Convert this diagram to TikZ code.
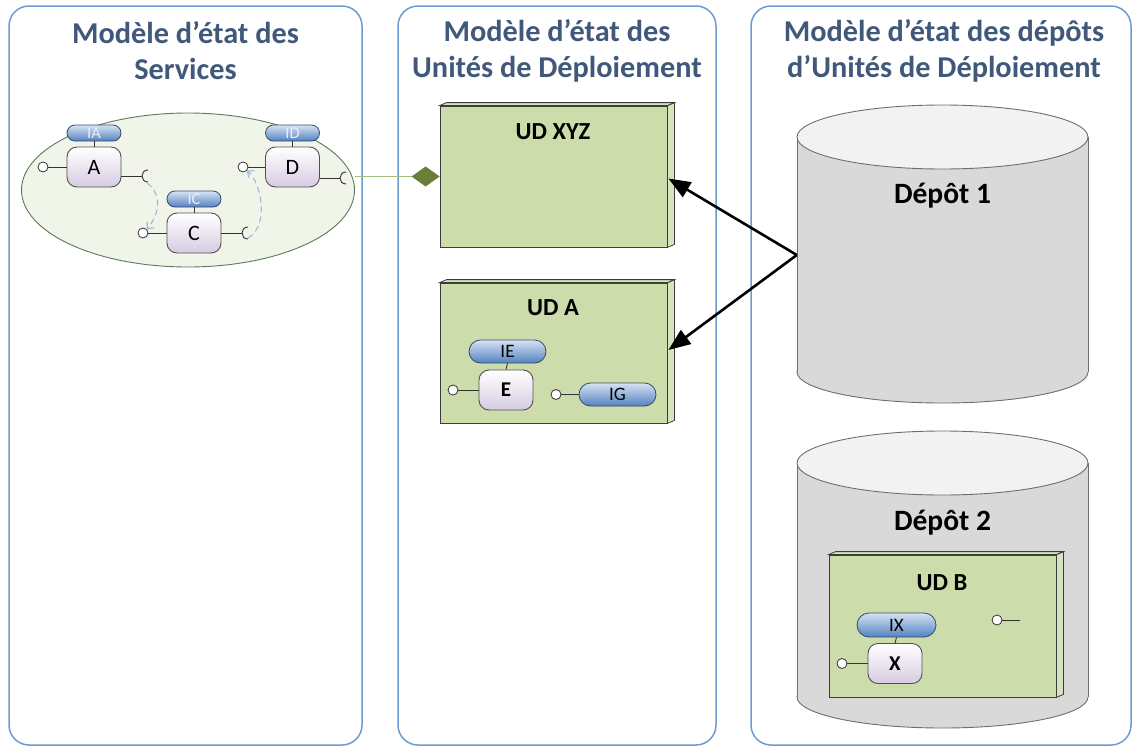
\documentclass[tikz,border=0pt]{standalone}
\usepackage{fontspec}
\setmainfont{Carlito}
\usetikzlibrary{arrows.meta,shapes.geometric,calc}
\definecolor{panelc}{RGB}{108,155,210}
\definecolor{titlec}{RGB}{64,88,122}
\definecolor{ellfill}{RGB}{240,244,233}
\definecolor{ellstroke}{RGB}{88,124,88}
\definecolor{udfill}{RGB}{204,220,170}
\definecolor{udside}{RGB}{214,228,188}
\definecolor{udstroke}{RGB}{60,60,60}
\definecolor{cylbody}{RGB}{217,217,217}
\definecolor{cyltop}{RGB}{242,242,242}
\definecolor{cylstroke}{RGB}{110,110,110}
\definecolor{pilltop}{RGB}{214,227,243}
\definecolor{pillbot}{RGB}{84,130,192}
\definecolor{pillstroke}{RGB}{50,75,110}
\definecolor{complav}{RGB}{214,204,226}
\definecolor{compstroke}{RGB}{80,80,80}
\definecolor{depc}{RGB}{157,184,220}
\definecolor{diamc}{RGB}{106,126,58}
\definecolor{linkc}{RGB}{163,190,133}
\definecolor{lightlbl}{RGB}{232,238,246}
\begin{document}
\begin{tikzpicture}[x=1pt,y=-1pt,
  panel/.style={draw=panelc,line width=1.5pt,rounded corners=20pt,inner sep=0pt},
  title/.style={align=center,text=titlec,font=\fontsize{30.3}{36}\selectfont\bfseries},
  svcell/.style={ellipse,draw=ellstroke,fill=ellfill,line width=0.9pt,minimum width=333pt,minimum height=154pt,inner sep=0pt},
  udbox/.style={draw=udstroke,fill=udfill,line width=0.8pt,minimum width=227pt,inner sep=0pt},
  udface/.style={draw=udstroke,fill=udside,line width=0.8pt},
  udtitle/.style={font=\fontsize{24.5}{28}\selectfont\bfseries},
  cyl/.style={draw=cylstroke,line width=0.9pt},
  deplbl/.style={font=\fontsize{29.5}{34}\selectfont\bfseries},
  comp/.style={draw=compstroke,line width=0.9pt,rounded corners=10pt,top color=white,bottom color=complav,minimum width=54pt,minimum height=40pt,inner sep=0pt,font=\fontsize{22}{24}\selectfont},
  compb/.style={comp,font=\fontsize{21}{23}\selectfont\bfseries},
  pill/.style={draw=pillstroke,line width=0.8pt,rounded corners=8pt,top color=pilltop,bottom color=pillbot,minimum width=54pt,minimum height=16pt,inner sep=0pt,text=lightlbl,font=\fontsize{16.5}{17}\selectfont},
  bigpill/.style={pill,rounded corners=11.5pt,minimum width=77pt,minimum height=23pt,text=black,font=\fontsize{19}{21}\selectfont},
  lolli/.style={circle,draw=black!80,fill=white,line width=0.8pt,minimum size=10pt,inner sep=0pt},
  wire/.style={draw=black!80,line width=0.9pt},
  dep/.style={draw=depc,line width=1.1pt,dash pattern=on 6pt off 4pt,-{Straight Barb[length=5pt,width=9pt]}},
  bigarrow/.style={draw=black,line width=2.6pt,-{Triangle[length=22pt,width=17pt]}},
  link/.style={draw=linkc,line width=1.2pt,-{Diamond[length=28pt,width=20pt,fill=diamc,color=diamc]}},
  hidden/.style={inner sep=0pt,draw=none}
]
\useasboundingbox (0,0) rectangle (1134,747);

% panels
\node[panel,minimum width=353pt,minimum height=739pt] (p1) at (185.5,375.5) {};
\node[panel,minimum width=318pt,minimum height=739pt] (p2) at (557,375.5) {};
\node[panel,minimum width=380pt,minimum height=739pt] (p3) at (941,375.5) {};

\node[title] (t1) at (185.5,51) {Modèle d’état des\\Services};
\node[title] (t2) at (557,51) {Modèle d’état des\\Unités de Déploiement};
\node[title] (t3) at (944,51) {Modèle d’état des dépôts\\d’Unités de Déploiement};

% ===== services ellipse =====
\node[svcell] (svc) at (188,190) {};

\node[comp] (A) at (94,167) {A};
\node[pill] (IA) at (94,133) {IA};
\draw[wire] (IA.south) -- (A.north);
\node[lolli] (lA) at (43,167) {};
\draw[wire] (lA.east) -- (A.west);
\coordinate (sA) at (142,176);
\draw[wire] (A.east |- sA) -- (sA);
\draw[wire] (sA) ++(6,-6) .. controls +(-8,0) and +(-8,0) .. +(0,12);

\node[comp] (D) at (292.5,167) {D};
\node[pill] (ID) at (292.5,133) {ID};
\draw[wire] (ID.south) -- (D.north);
\node[lolli] (lD) at (243,167) {};
\draw[wire] (lD.east) -- (D.west);
\coordinate (sD) at (340,178);
\draw[wire] (D.east |- sD) -- (sD);
\draw[wire] (sD) ++(6,-6) .. controls +(-8,0) and +(-8,0) .. +(0,12);

\node[comp] (C) at (194,233) {C};
\node[pill] (IC) at (194,199) {IC};
\draw[wire] (IC.south) -- (C.north);
\node[lolli] (lC) at (143,233) {};
\draw[wire] (lC.east) -- (C.west);
\coordinate (sC) at (242,233);
\draw[wire] (C.east |- sC) -- (sC);
\draw[wire] (sC) ++(6,-6) .. controls +(-8,0) and +(-8,0) .. +(0,12);

\draw[dep] ($(sA)+(5,7)$) .. controls +(16,12) and +(12,-14) .. (lC.north east);
\draw[dep] ($(sC)+(6,5)$) .. controls +(22,-12) and +(14,10) .. (lD.south east);

% ===== UD XYZ =====
\node[udbox,minimum height=141pt] (xyz) at (553.5,176.5) {};
\draw[udface] (xyz.north east) -- ++(7,-3) -- ($(xyz.south east)+(7,-3)$) -- (xyz.south east) -- cycle;
\draw[udface] (xyz.north west) -- ++(7,-3) -- ($(xyz.north east)+(7,-3)$) -- (xyz.north east) -- cycle;
\node[udtitle] (xyzt) at (553,132) {UD XYZ};

\draw[link] (svc.east |- xyz.west) -- (xyz.west);

% ===== UD A =====
\node[udbox,minimum height=140pt] (uda) at (553.5,353) {};
\draw[udface] (uda.north east) -- ++(7,-3) -- ($(uda.south east)+(7,-3)$) -- (uda.south east) -- cycle;
\draw[udface] (uda.north west) -- ++(7,-3) -- ($(uda.north east)+(7,-3)$) -- (uda.north east) -- cycle;
\node[udtitle] (udat) at (553,308) {UD A};

\node[compb] (E) at (506,390) {E};
\node[bigpill] (IE) at (507.5,351.5) {IE};
\draw[wire] (IE.south) -- (E.north);
\node[lolli] (lE) at (453,390) {};
\draw[wire] (lE.east) -- (E.west);
\node[bigpill] (IG) at (617.5,394.5) {IG};
\node[lolli] (lG) at (556,394.5) {};
\draw[wire] (lG.east) -- (IG.west);

% ===== Depot 1 =====
\draw[cyl,fill=cylbody] (942.5,372) ellipse [x radius=145.5,y radius=31];
\fill[cylbody] (797,137) rectangle (1088,372);
\draw[cyl] (797,137) -- (797,372);
\draw[cyl] (1088,137) -- (1088,372);
\draw[cyl,fill=cyltop] (942.5,137) ellipse [x radius=145.5,y radius=32];
\node[hidden,minimum width=291pt,minimum height=299pt] (depot1) at (942.5,255) {};
\node[deplbl] (d1) at (942.5,196) {Dépôt 1};

\draw[bigarrow] (depot1.west) -- ($(xyz.east)+(1,2)$);
\draw[bigarrow] (depot1.west) -- ($(uda.east)+(1,-3)$);

% ===== Depot 2 =====
\draw[cyl,fill=cylbody] (942.5,697) ellipse [x radius=145.5,y radius=31];
\fill[cylbody] (797,463) rectangle (1088,697);
\draw[cyl] (797,463) -- (797,697);
\draw[cyl] (1088,463) -- (1088,697);
\draw[cyl,fill=cyltop] (942.5,463) ellipse [x radius=145.5,y radius=32];
\node[hidden,minimum width=291pt,minimum height=298pt] (depot2) at (942.5,579) {};
\node[deplbl] (d2) at (942.5,523) {Dépôt 2};

% ===== UD B =====
\node[udbox,minimum height=142pt] (udb) at (942.5,626) {};
\draw[udface] (udb.north east) -- ++(7,-3) -- ($(udb.south east)+(7,-3)$) -- (udb.south east) -- cycle;
\draw[udface] (udb.north west) -- ++(7,-3) -- ($(udb.north east)+(7,-3)$) -- (udb.north east) -- cycle;
\node[udtitle] (udbt) at (942,583) {UD B};

\node[compb] (X) at (895,663.5) {X};
\node[bigpill,minimum width=79pt,minimum height=24pt,rounded corners=12pt] (IX) at (896.5,625) {IX};
\draw[wire] (IX.south) -- (X.north);
\node[lolli] (lX) at (842,663.5) {};
\draw[wire] (lX.east) -- (X.west);
\node[lolli] (lB) at (997,620) {};
\coordinate (lBend) at (1020,620);
\draw[wire] (lB.east) -- (lBend);
\end{tikzpicture}
\end{document}
